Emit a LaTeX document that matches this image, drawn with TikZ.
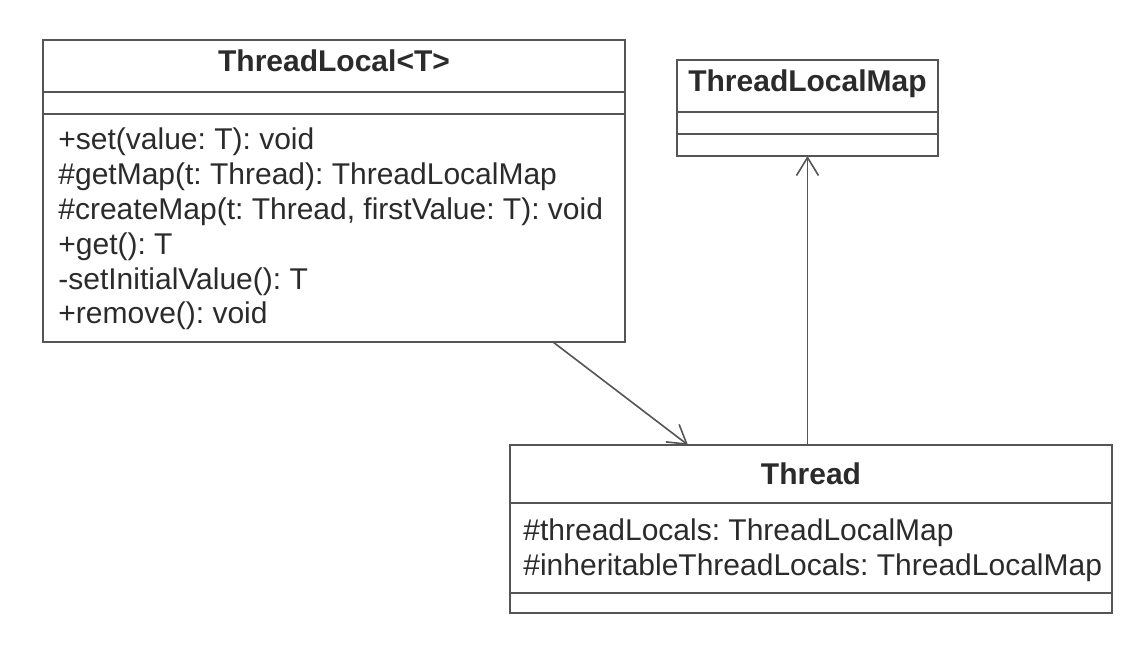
\documentclass[tikz,border=0pt]{standalone}
\usepackage{fontspec}
\setmainfont{Liberation Sans}
\usepackage{tikz}
\usetikzlibrary{positioning,calc,arrows.meta}
\frenchspacing

\definecolor{umlline}{HTML}{555555}
\definecolor{umltext}{HTML}{2B2B2B}

\tikzset{
  classbox/.style={draw=umlline, line width=1pt, fill=white, inner sep=0pt, outer sep=0pt},
  classname/.style={font=\fontsize{15}{17}\selectfont\bfseries, text=umltext, inner sep=0pt, anchor=base},
  member/.style={font=\fontsize{15}{17}\selectfont, text=umltext, inner sep=0pt, anchor=base west},
  divider/.style={draw=umlline, line width=1pt},
  assoc/.style={draw=umlline, line width=0.8pt, -{Straight Barb[length=9pt,width=11pt]}}
}

\begin{document}
\begin{tikzpicture}[x=0.5pt, y=-0.5pt]
  \useasboundingbox[fill=white] (0,0) rectangle (1136,652);

  % ThreadLocal<T> class
  \node[classbox, anchor=north west, minimum width=291pt, minimum height=151pt] (tl) at (43,40) {};
  \node[classname] (tlname) at (334,72) {ThreadLocal<T>};
  \draw[divider] (43,92) -- (625,92);
  \draw[divider] (43,114) -- (625,114);
  \foreach \m [count=\i] in {{+set(value: T): void},
                             {\#getMap(t: Thread): ThreadLocalMap},
                             {\#createMap(t: Thread, firstValue: T): void},
                             {+get(): T},
                             {-setInitialValue(): T},
                             {+remove(): void}}
    \node[member] (op\i) at (58,{150+34.8*(\i-1)}) {\m};

  % ThreadLocalMap class
  \node[classbox, anchor=north west, minimum width=130.5pt, minimum height=48pt] (tlmap) at (677,60) {};
  \node[classname] (tlmapname) at (807.5,92) {ThreadLocalMap};
  \draw[divider] (677,112) -- (938,112);
  \draw[divider] (677,134) -- (938,134);

  % Thread class
  \node[classbox, anchor=north west, minimum width=301pt, minimum height=84pt] (thr) at (510,445) {};
  \node[classname] (thrname) at (811,484) {Thread};
  \draw[divider] (510,503) -- (1112,503);
  \node[member] (attr1) at (523,540) {\#threadLocals: ThreadLocalMap};
  \node[member] (attr2) at (523,575) {\#inheritableThreadLocals: ThreadLocalMap};
  \draw[divider] (510,593) -- (1112,593);

  % Associations
  \draw[assoc] ($(tl.south west)+(510,0)$) -- ($(thr.north west)+(178,0)$);
  \draw[assoc] (thr.north -| tlmap.south) -- (tlmap.south);
\end{tikzpicture}
\end{document}
